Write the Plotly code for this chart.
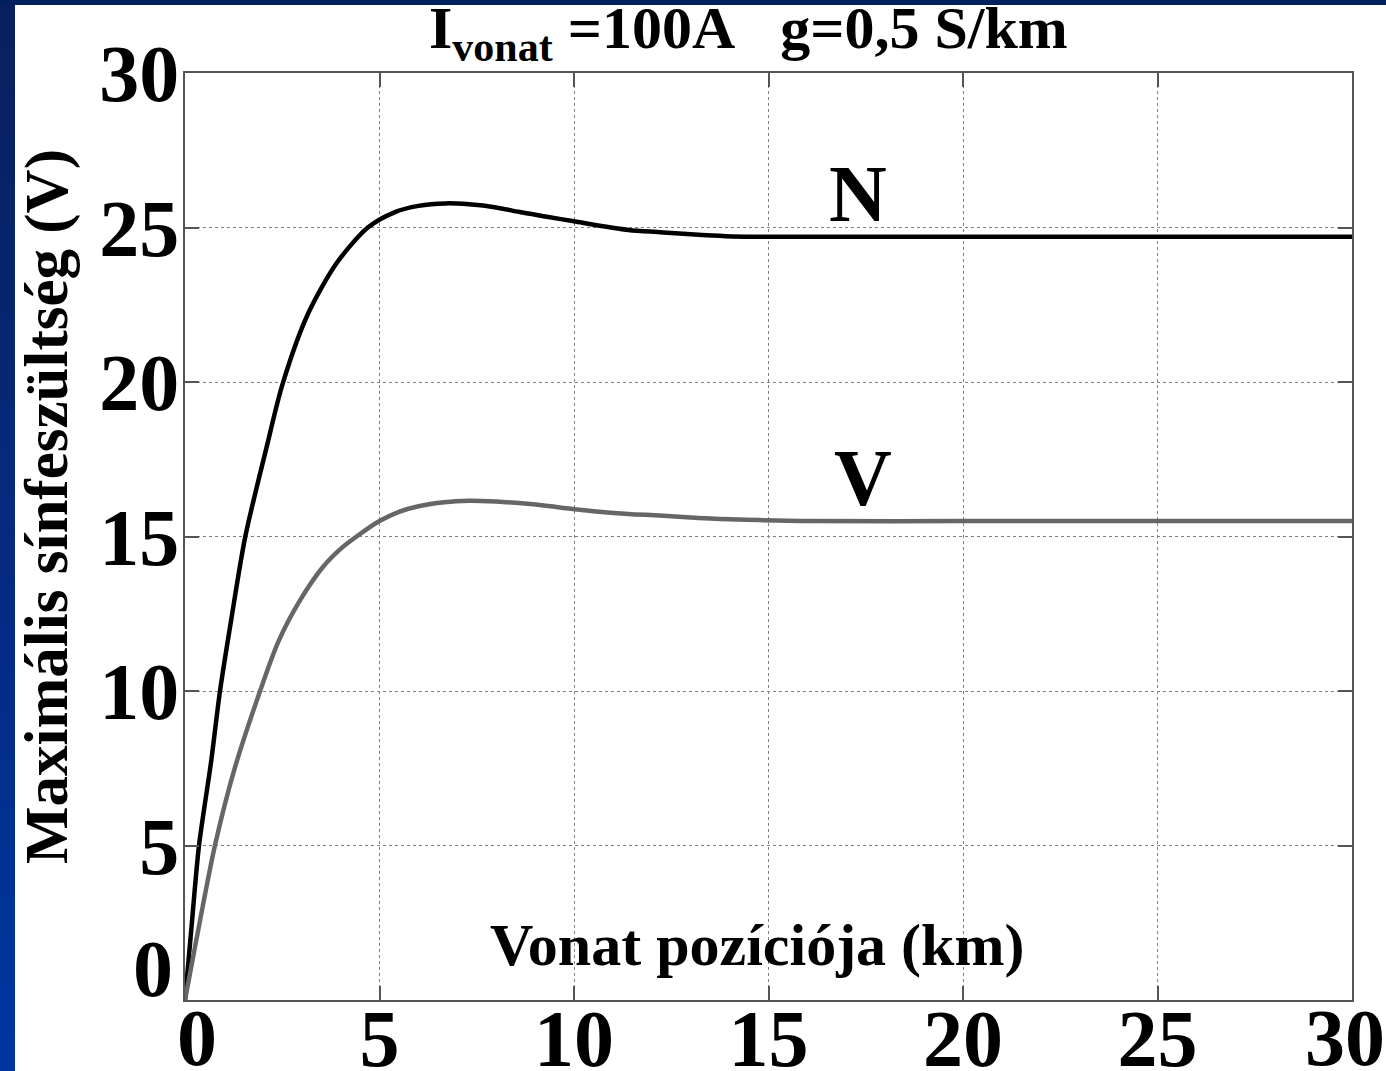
import plotly.graph_objects as go

# ---- data ----
x_ticks = [0, 5, 10, 15, 20, 25, 30]
y_ticks = [0, 5, 10, 15, 20, 25, 30]

x_N = [0, 0.17, 0.36, 0.67, 0.9, 1.2, 1.55, 2.1, 2.5, 3.16, 3.9, 4.7, 5.4, 6.0, 6.7, 7.3, 8.0, 8.6, 9.3, 10.0,
       11.4, 12.2, 13.0, 13.9, 15, 20, 25, 30]
y_N = [0, 2.4, 5, 7.7, 10, 12.4, 15, 17.9, 19.9, 22.2, 23.85, 25.0, 25.5, 25.7, 25.78, 25.75, 25.65, 25.5, 25.35, 25.2,
       24.92, 24.85, 24.78, 24.72, 24.7, 24.7, 24.7, 24.7]

x_V = [0, 0.3, 0.77, 1.29, 1.93, 2.4, 2.96, 3.55, 4.0, 4.41, 5.0, 5.5, 6.0, 6.6, 7.3, 8.0, 8.87, 9.64, 10.5, 11.4,
       12.2, 13.2, 14.0, 14.8, 16, 20, 25, 30]
y_V = [0, 2.0, 5, 7.55, 10, 11.6, 12.94, 14.02, 14.6, 15.0, 15.5, 15.8, 15.98, 16.1, 16.16, 16.13, 16.05, 15.94, 15.82, 15.73,
       15.68, 15.6, 15.56, 15.53, 15.5, 15.5, 15.5, 15.5]

title_text = "I<sub>vonat</sub> =100A\u00a0\u00a0\u00a0g=0,5 S/km"
y_label = "Maximális sínfeszültség (V)"
x_label = "Vonat pozíciója (km)"

# ---- layout geometry ----
W, H = 1386, 1071
ML, MR, MT, MB = 185, 34, 73, 71
PW, PH = W - ML - MR, H - MT - MB

def px_x(px):
    return (px - ML) / PW

def px_y(py):
    return (H - MB - py) / PH

FONT = "Liberation Serif"
TICKFONT = dict(family=FONT, size=80, color="#000000", weight="bold")

fig = go.Figure()
fig.add_trace(go.Scatter(x=x_N, y=y_N, mode="lines", line=dict(color="#000000", width=4.5, shape="spline", smoothing=0.8),
                         showlegend=False, hoverinfo="skip"))
fig.add_trace(go.Scatter(x=x_V, y=y_V, mode="lines", line=dict(color="#666666", width=4.5, shape="spline", smoothing=0.8),
                         showlegend=False, hoverinfo="skip"))

axis_common = dict(
    showgrid=True, gridcolor="#808080", griddash="dot", gridwidth=1,
    showline=True, linecolor="#555555", linewidth=1.5, mirror="ticks",
    ticks="inside", ticklen=14, tickcolor="#555555", tickwidth=1.5,
    zeroline=False, automargin=False,
    tickfont=TICKFONT,
    ticklabeloverflow="allow",
)

# edge tick labels are nudged inward (as in the original), drawn as annotations below
x_ticktext = [str(v) for v in x_ticks]
x_ticktext[0] = ""
x_ticktext[-1] = ""
y_ticktext = [str(v) for v in y_ticks]
y_ticktext[0] = ""

fig.update_xaxes(range=[0, 30], tickvals=x_ticks, ticktext=x_ticktext,
                 ticklabelstandoff=-32, **axis_common)
fig.update_yaxes(range=[0, 30], tickvals=y_ticks, ticktext=y_ticktext,
                 ticklabelstandoff=-12, **axis_common)

shapes = []
n_seg = 24
top_c = (10, 31, 94)
bot_c = (0, 53, 160)
for i in range(n_seg):
    t = i / (n_seg - 1)
    c = tuple(int(round(top_c[k] + (bot_c[k] - top_c[k]) * t)) for k in range(3))
    y0 = H * i / n_seg
    y1 = H * (i + 1) / n_seg + 1
    shapes.append(dict(type="rect", xref="paper", yref="paper", layer="below",
                       x0=px_x(0), x1=px_x(15), y0=px_y(y1), y1=px_y(y0),
                       fillcolor="rgb(%d,%d,%d)" % c, line=dict(width=0)))
shapes.append(dict(type="rect", xref="paper", yref="paper", layer="below",
                   x0=px_x(0), x1=px_x(W), y0=px_y(5), y1=px_y(0),
                   fillcolor="rgb(0,32,96)", line=dict(width=0)))

annotations = [
    dict(text=title_text, xref="paper", yref="paper", x=px_x(748), y=px_y(33), showarrow=False,
         xanchor="center", yanchor="middle", font=dict(family=FONT, size=60, color="#000000", weight="bold")),
    dict(text=y_label, xref="paper", yref="paper", x=px_x(47), y=px_y(507), showarrow=False, textangle=-90,
         xanchor="center", yanchor="middle", font=dict(family=FONT, size=61, color="#000000", weight="bold")),
    dict(text=x_label, xref="paper", yref="paper", x=px_x(757), y=px_y(945), showarrow=False,
         xanchor="center", yanchor="middle", font=dict(family=FONT, size=60, color="#000000", weight="bold")),
    dict(text="N", xref="x", yref="y", x=17.3, y=26.1, showarrow=False,
         xanchor="center", yanchor="middle", font=dict(family=FONT, size=80, color="#000000", weight="bold")),
    dict(text="V", xref="x", yref="y", x=17.43, y=16.9, showarrow=False,
         xanchor="center", yanchor="middle", font=dict(family=FONT, size=80, color="#000000", weight="bold")),
    # nudged edge tick labels
    dict(text=str(x_ticks[0]), xref="paper", yref="paper", x=px_x(197), y=px_y(1038), showarrow=False,
         xanchor="center", yanchor="middle", font=TICKFONT),
    dict(text=str(x_ticks[-1]), xref="paper", yref="paper", x=px_x(1345), y=px_y(1038), showarrow=False,
         xanchor="center", yanchor="middle", font=TICKFONT),
    dict(text=str(y_ticks[0]), xref="paper", yref="paper", x=px_x(153), y=px_y(969), showarrow=False,
         xanchor="center", yanchor="middle", font=TICKFONT),
]

fig.update_layout(
    width=W, height=H,
    margin=dict(l=ML, r=MR, t=MT, b=MB, pad=0, autoexpand=False),
    paper_bgcolor="white", plot_bgcolor="white",
    shapes=shapes, annotations=annotations,
    showlegend=False,
)

fig.write_html("out.html", config={"displayModeBar": False},
               post_script="document.body.style.margin='0';document.body.style.overflow='hidden';")
